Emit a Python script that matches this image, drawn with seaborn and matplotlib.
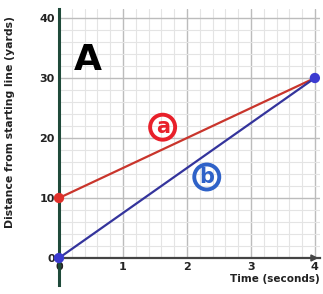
import matplotlib
matplotlib.use("Agg")
import matplotlib.pyplot as plt
import seaborn as sns
import pandas as pd
from matplotlib.ticker import MultipleLocator

time_s = [0, 4]
dist_a = [10, 30]
dist_b = [0, 30]
series = ["a", "b"]
x_ticks = [0, 1, 2, 3, 4]
y_ticks = [0, 10, 20, 30, 40]

sns.set_style("white")
plt.rcParams['font.family'] = ['DejaVu Sans']

df = pd.DataFrame({
    "time": time_s + time_s,
    "dist": dist_a + dist_b,
    "series": [series[0]] * 2 + [series[1]] * 2,
})
palette = {"a": "#c9352c", "b": "#34349c"}

fig = plt.figure(figsize=(3.23, 2.94), dpi=100)
ax = fig.add_axes([59/323, 1 - 258/294, 261/323, (258 - 9)/294])

ax.set_xlim(0, 4.08)
ax.set_ylim(0, 41.5)
ax.xaxis.set_major_locator(MultipleLocator(1))
ax.xaxis.set_minor_locator(MultipleLocator(0.2))
ax.yaxis.set_major_locator(MultipleLocator(10))
ax.yaxis.set_minor_locator(MultipleLocator(2))
ax.grid(which="major", color="#bcbcbc", lw=1.0)
ax.grid(which="minor", color="#e4e4e4", lw=0.8)
ax.set_axisbelow(True)

sns.lineplot(data=df, x="time", y="dist", hue="series", palette=palette,
             lw=1.6, legend=False, ax=ax, clip_on=False)
pts = pd.DataFrame({"time": [0, 0, 4], "dist": [10, 0, 30],
                    "series": ["a", "b", "b"]})
sns.scatterplot(data=pts, x="time", y="dist", hue="series", palette={"a": "#e0302a", "b": "#3a3ad0"},
                s=55, edgecolor="none", legend=False, ax=ax, clip_on=False, zorder=5)

for s in ["top", "right"]:
    ax.spines[s].set_visible(False)
ax.spines["left"].set_color("#1f4a3a")
ax.spines["left"].set_linewidth(2.2)
ax.spines["left"].set_bounds(-4.5, 41.5)
ax.spines["bottom"].set_color("#444444")
ax.spines["bottom"].set_linewidth(1.6)
ax.annotate("", xy=(4.1, 0), xytext=(4.0, 0), xycoords="data",
            arrowprops=dict(arrowstyle="-|>", color="#444444", lw=1.2), annotation_clip=False)

ax.set_xticks(x_ticks)
ax.set_yticks(y_ticks)
ax.set_xticklabels([str(v) for v in x_ticks], fontsize=8, fontweight="bold", color="#222222")
ax.set_yticklabels([str(v) for v in y_ticks], fontsize=8, fontweight="bold", color="#222222")
ax.tick_params(axis="both", length=0, pad=3)

ax.set_xlabel("")
ax.set_ylabel("Distance from starting line (yards)", fontsize=7.8, fontweight="bold",
              color="#222222")
ax.yaxis.set_label_coords(-0.169, 0.546)
ax.text(1.0, -0.085, "Time (seconds)", transform=ax.transAxes, ha="right", va="center",
        fontsize=7.5, fontweight="bold", color="#222222")

ax.text(0.45, 33, "A", fontsize=26, fontweight="bold", color="black", ha="center", va="center")
ax.text(1.62, 21.8, "a", fontsize=15, fontweight="bold", color="#e8202a", ha="center", va="center",
        bbox=dict(boxstyle="circle,pad=0.12", fc="none", ec="#e8202a", lw=2.8))
ax.text(2.31, 13.5, "b", fontsize=15, fontweight="bold", color="#2f62c8", ha="center", va="center",
        bbox=dict(boxstyle="circle,pad=0.12", fc="none", ec="#2f62c8", lw=2.8))

fig.savefig("out.png", dpi=100)
